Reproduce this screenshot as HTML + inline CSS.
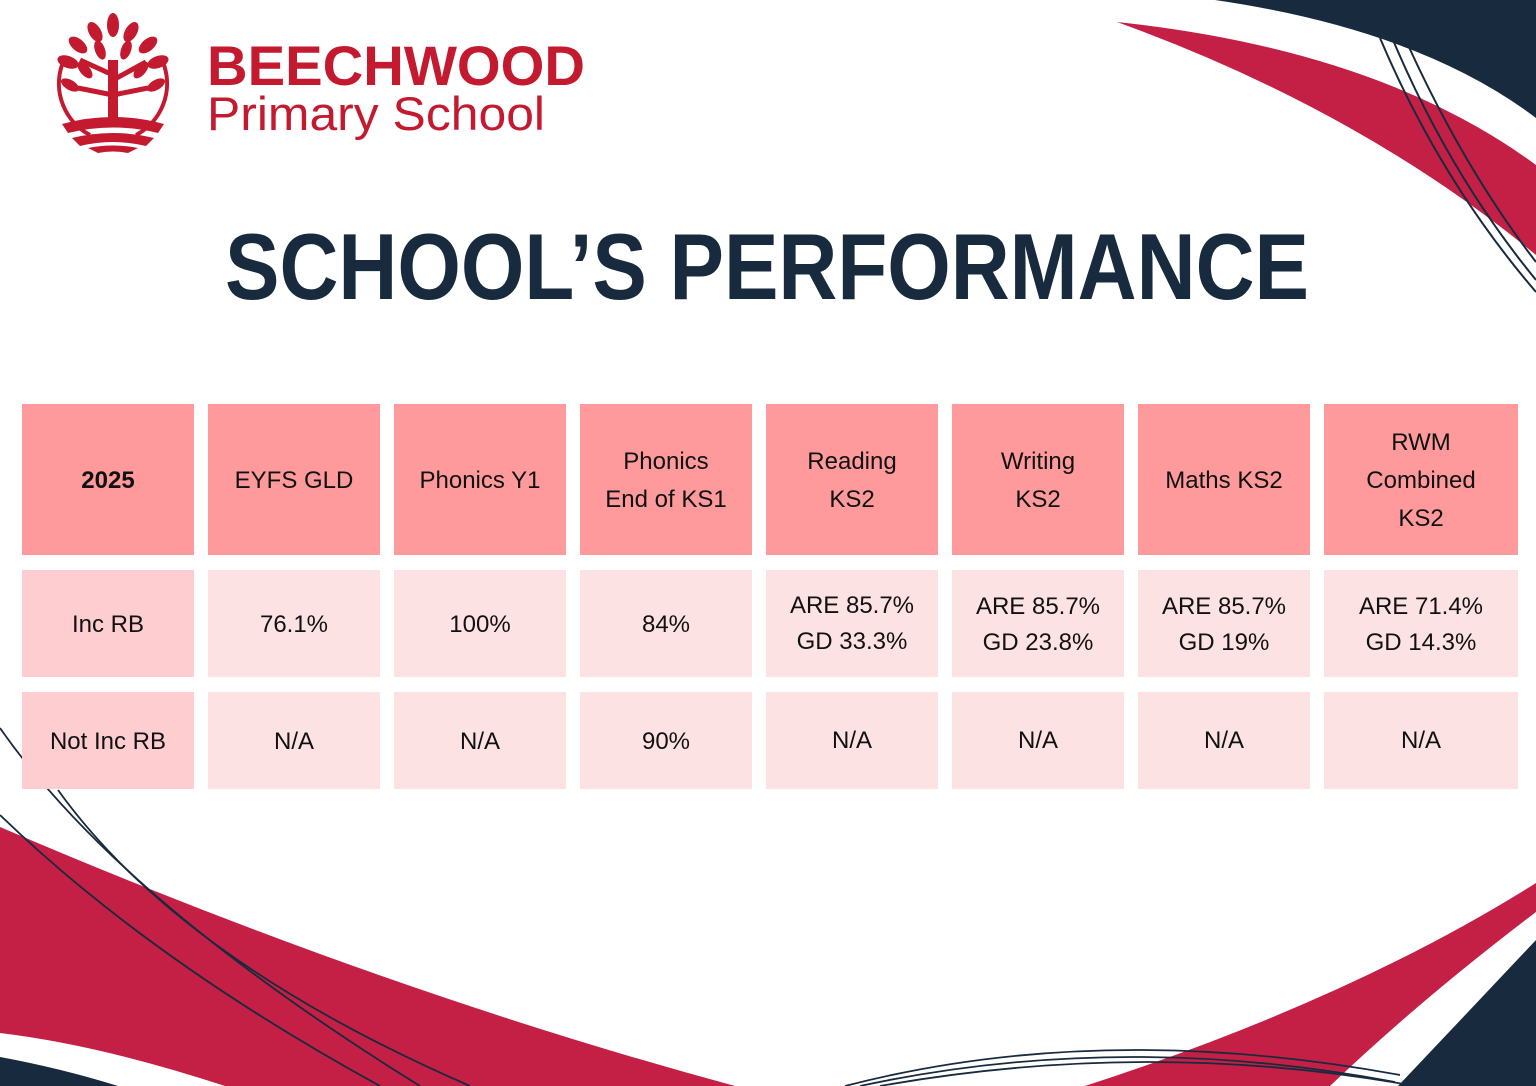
<!DOCTYPE html>
<html><head><meta charset="utf-8"><style>
html,body{margin:0;padding:0;background:#fff;width:1536px;height:1086px;overflow:hidden}
svg{display:block}
text{font-family:"Liberation Sans",sans-serif}
</style></head><body>
<svg width="1536" height="1086" viewBox="0 0 1536 1086" xmlns="http://www.w3.org/2000/svg">
<!-- top right shapes -->
<path d="M1215,0 L1536,0 L1536,118 Q1420,30 1215,0 Z" fill="#182a3e"/>
<path d="M1117,22 Q1380,50 1536,165 L1536,255 Q1360,110 1117,22 Z" fill="#c42045"/>
<g fill="none" stroke="#182a3e" stroke-width="2">
<path d="M1380,38 Q1440,180 1536,292"/>
<path d="M1393,40 Q1450,175 1536,280"/>
<path d="M1408,45 Q1465,170 1536,262"/>
</g>
<!-- bottom left -->
<path d="M0,827 Q380,990 735,1086 L225,1086 Q100,1045 0,1033 Z" fill="#c42045"/>
<path d="M0,1057 Q60,1068 118,1086 L0,1086 Z" fill="#182a3e"/>
<g fill="none" stroke="#182a3e" stroke-width="1.8">
<path d="M0,728 Q120,900 420,1086"/>
<path d="M0,815 Q150,960 380,1086"/>
<path d="M58,790 Q180,960 470,1086"/>
</g>
<!-- bottom right -->
<path d="M1085,1086 Q1350,1000 1536,883 L1536,912 Q1420,1000 1330,1086 Z" fill="#c42045"/>
<path d="M1536,940 L1536,1086 L1398,1086 Q1470,1010 1536,940 Z" fill="#182a3e"/>
<g fill="none" stroke="#182a3e" stroke-width="1.8">
<path d="M845,1086 Q1100,1020 1400,1075"/>
<path d="M860,1086 Q1120,1030 1395,1082"/>
<path d="M880,1086 Q1150,1038 1415,1086"/>
</g>
<!-- logo -->
<g fill="#c41a2f">
<path d="M62,65 A58,58 0 0 0 90,135" fill="none" stroke="#c41a2f" stroke-width="4"/>
<path d="M164,65 A58,58 0 0 1 136,135" fill="none" stroke="#c41a2f" stroke-width="4"/>
<rect x="108" y="60" width="10" height="62"/>
<path d="M113,75 L80,60 M113,80 L146,62 M113,95 L78,88 M113,95 L148,88" stroke="#c41a2f" stroke-width="5"/>
<ellipse cx="113" cy="25" rx="6" ry="12"/>
<ellipse cx="95" cy="32" rx="6" ry="11" transform="rotate(-30 95 32)"/>
<ellipse cx="131" cy="32" rx="6" ry="11" transform="rotate(30 131 32)"/>
<ellipse cx="78" cy="45" rx="6" ry="11" transform="rotate(-50 78 45)"/>
<ellipse cx="148" cy="45" rx="6" ry="11" transform="rotate(50 148 45)"/>
<ellipse cx="68" cy="62" rx="6" ry="11" transform="rotate(-70 68 62)"/>
<ellipse cx="158" cy="62" rx="6" ry="11" transform="rotate(70 158 62)"/>
<ellipse cx="100" cy="50" rx="5" ry="10" transform="rotate(-20 100 50)"/>
<ellipse cx="126" cy="50" rx="5" ry="10" transform="rotate(20 126 50)"/>
<ellipse cx="85" cy="70" rx="5" ry="10" transform="rotate(-40 85 70)"/>
<ellipse cx="141" cy="70" rx="5" ry="10" transform="rotate(40 141 70)"/>
<ellipse cx="70" cy="85" rx="5" ry="10" transform="rotate(-60 70 85)"/>
<ellipse cx="156" cy="85" rx="5" ry="10" transform="rotate(60 156 85)"/>
<path d="M62,124 Q113,110 164,124 L158,133 Q113,122 68,133 Z"/>
<path d="M72,138 Q113,128 154,138 L146,146 Q113,138 80,146 Z"/>
<path d="M88,148 Q113,143 138,148 L128,153 Q113,150 98,153 Z"/>
</g>
<text x="207" y="85" font-size="56" font-weight="bold" fill="#c41a2f" textLength="378" lengthAdjust="spacingAndGlyphs">BEECHWOOD</text>
<text x="207" y="130" font-size="47" fill="#c41a2f" textLength="338" lengthAdjust="spacingAndGlyphs">Primary School</text>
<!-- title -->
<text x="225" y="299" font-size="94" font-weight="bold" fill="#182a3e" textLength="1084" lengthAdjust="spacingAndGlyphs">SCHOOL’S PERFORMANCE</text>
<!-- table -->
<g>
<rect x="22" y="404" width="172" height="151" fill="#fe9a9b"/>
<rect x="208" y="404" width="172" height="151" fill="#fe9a9b"/>
<rect x="394" y="404" width="172" height="151" fill="#fe9a9b"/>
<rect x="580" y="404" width="172" height="151" fill="#fe9a9b"/>
<rect x="766" y="404" width="172" height="151" fill="#fe9a9b"/>
<rect x="952" y="404" width="172" height="151" fill="#fe9a9b"/>
<rect x="1138" y="404" width="172" height="151" fill="#fe9a9b"/>
<rect x="1324" y="404" width="194" height="151" fill="#fe9a9b"/>
<rect x="22" y="570" width="172" height="107" fill="#fdcdd0"/>
<rect x="208" y="570" width="172" height="107" fill="#fde2e3"/>
<rect x="394" y="570" width="172" height="107" fill="#fde2e3"/>
<rect x="580" y="570" width="172" height="107" fill="#fde2e3"/>
<rect x="766" y="570" width="172" height="107" fill="#fde2e3"/>
<rect x="952" y="570" width="172" height="107" fill="#fde2e3"/>
<rect x="1138" y="570" width="172" height="107" fill="#fde2e3"/>
<rect x="1324" y="570" width="194" height="107" fill="#fde2e3"/>
<rect x="22" y="692" width="172" height="97" fill="#fdcdd0"/>
<rect x="208" y="692" width="172" height="97" fill="#fde2e3"/>
<rect x="394" y="692" width="172" height="97" fill="#fde2e3"/>
<rect x="580" y="692" width="172" height="97" fill="#fde2e3"/>
<rect x="766" y="692" width="172" height="97" fill="#fde2e3"/>
<rect x="952" y="692" width="172" height="97" fill="#fde2e3"/>
<rect x="1138" y="692" width="172" height="97" fill="#fde2e3"/>
<rect x="1324" y="692" width="194" height="97" fill="#fde2e3"/>
</g>
<g font-size="24" fill="#111" text-anchor="middle">
<text x="108" y="488" font-weight="bold">2025</text>
<text x="294" y="488">EYFS GLD</text>
<text x="480" y="488">Phonics Y1</text>
<text x="666" y="469">Phonics</text><text x="666" y="507">End of KS1</text>
<text x="852" y="469">Reading</text><text x="852" y="507">KS2</text>
<text x="1038" y="469">Writing</text><text x="1038" y="507">KS2</text>
<text x="1224" y="488">Maths KS2</text>
<text x="1421" y="450">RWM</text><text x="1421" y="488">Combined</text><text x="1421" y="526">KS2</text>

<text x="108" y="632">Inc RB</text>
<text x="294" y="632">76.1%</text>
<text x="480" y="632">100%</text>
<text x="666" y="632">84%</text>
<text x="852" y="613">ARE 85.7%</text><text x="852" y="649">GD 33.3%</text>
<text x="1038" y="614">ARE 85.7%</text><text x="1038" y="650">GD 23.8%</text>
<text x="1224" y="614">ARE 85.7%</text><text x="1224" y="650">GD 19%</text>
<text x="1421" y="614">ARE 71.4%</text><text x="1421" y="650">GD 14.3%</text>

<text x="108" y="749">Not Inc RB</text>
<text x="294" y="749">N/A</text>
<text x="480" y="749">N/A</text>
<text x="666" y="749">90%</text>
<text x="852" y="748">N/A</text>
<text x="1038" y="748">N/A</text>
<text x="1224" y="748">N/A</text>
<text x="1421" y="748">N/A</text>
</g>
</svg>
</body></html>
